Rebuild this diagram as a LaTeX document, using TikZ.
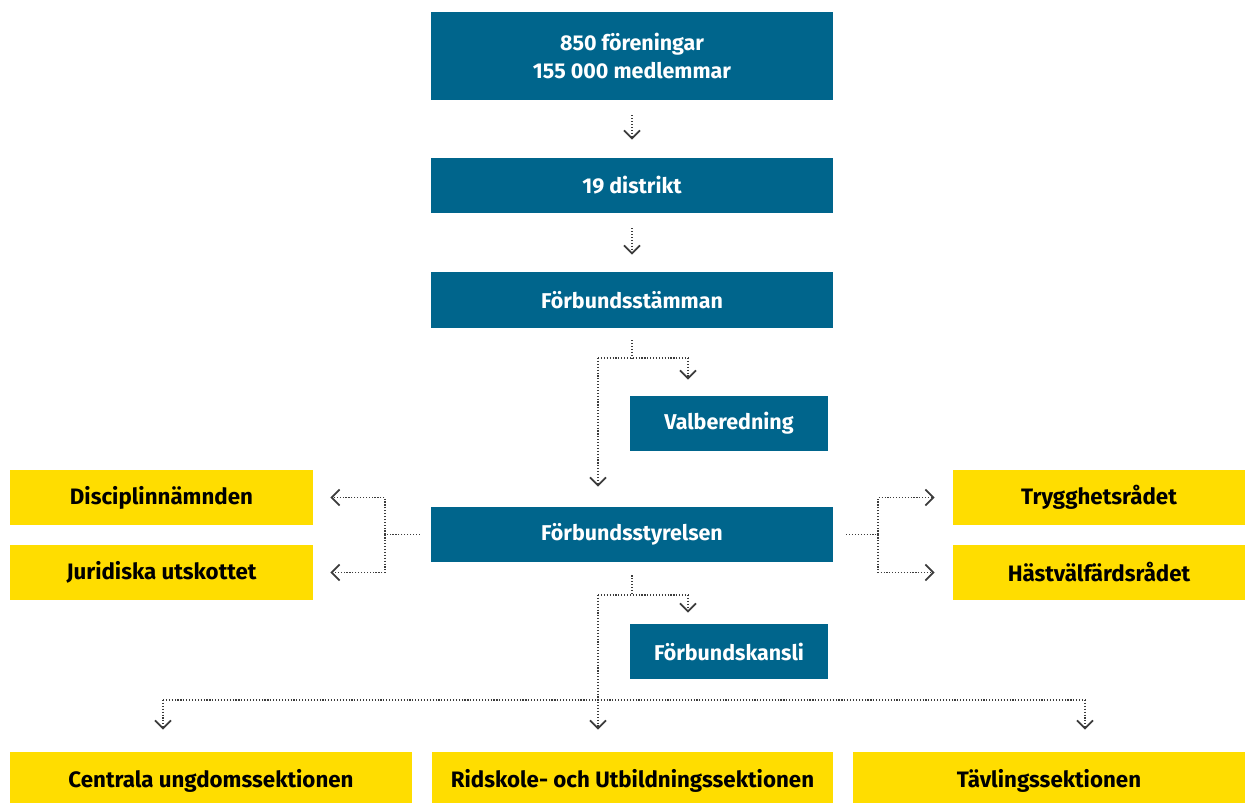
\documentclass[tikz,border=0pt]{standalone}
\usepackage{fontspec}
\setmainfont{Fira Sans}
\usetikzlibrary{arrows.meta,positioning}

\definecolor{rfblue}{RGB}{0,101,140}
\definecolor{rfyellow}{RGB}{255,221,0}
\definecolor{rfline}{RGB}{60,60,60}

\tikzset{
	bluebox/.style={fill=rfblue, text=white, inner sep=0pt, align=center,
		font=\bfseries\fontsize{12.2}{15.5}\selectfont},
	yellowbox/.style={fill=rfyellow, text=black, inner sep=0pt, align=center,
		font=\bfseries\fontsize{12.7}{15}\selectfont},
	line/.style={draw=rfline, densely dotted, line width=0.65pt},
	conn/.style={line, -{Straight Barb[length=1.6mm, width=3.2mm, line width=1pt]}},
}

\begin{document}
\begin{tikzpicture}[x=0.02cm, y=-0.02cm]
			\useasboundingbox (0, 0) rectangle (1246, 802);
			
			\node[bluebox, minimum width=8.04cm, minimum height=1.76cm] (top) at (632, 56) {850 föreningar\\155 000 medlemmar};
			\node[bluebox, minimum width=8.04cm, minimum height=1.1cm] (distrikt) at (632, 185.5) {19 distrikt};
			\node[bluebox, minimum width=8.04cm, minimum height=1.12cm] (stamma) at (632, 300) {Förbundsstämman};
			\node[bluebox, minimum width=3.96cm, minimum height=1.1cm] (valb) at (729, 423.5) {Valberedning};
			\node[bluebox, minimum width=8.04cm, minimum height=1.1cm] (styr) at (632, 534.5) {Förbundsstyrelsen};
			\node[bluebox, minimum width=3.96cm, minimum height=1.1cm] (kansli) at (729, 651.5) {Förbundskansli};
			
			\node[yellowbox, minimum width=6.06cm, minimum height=1.1cm] (disc) at (161.5, 497.5) {Disciplinnämnden};
			\node[yellowbox, minimum width=6.06cm, minimum height=1.1cm] (jur) at (161.5, 572.5) {Juridiska utskottet};
			\node[yellowbox, minimum width=5.84cm, minimum height=1.1cm] (trygg) at (1099, 497.5) {Trygghetsrådet};
			\node[yellowbox, minimum width=5.84cm, minimum height=1.1cm] (hast) at (1099, 572.5) {Hästvälfärdsrådet};
			
			\node[yellowbox, minimum width=8.04cm, minimum height=1.16cm] (cus) at (211, 781) {Centrala ungdomssektionen};
			\node[yellowbox, minimum width=8.02cm, minimum height=1.16cm] (ridsk) at (632.5, 781) {Ridskole- och Utbildningssektionen};
			\node[yellowbox, minimum width=7.84cm, minimum height=1.16cm] (tavl) at (1049, 781) {Tävlingssektionen};
			
			\coordinate (sv) at (632, 358);
			\coordinate (sl) at (598, 358);
			\coordinate (sr) at (688, 358);
			\coordinate (lj) at (385, 534.5);
			\coordinate (rj) at (878, 534.5);
			\coordinate (kv) at (632, 595);
			\coordinate (kl) at (598, 595);
			\coordinate (kr) at (688, 595);
			\coordinate (hl) at (163, 700);
			\coordinate (hr) at (1085, 700);
			
			\draw[conn, shorten <=3mm, shorten >=3.6mm] (top) -- (distrikt);
			\draw[conn, shorten <=3mm, shorten >=3.4mm] (distrikt) -- (stamma);
			
			\draw[line, shorten <=2.4mm] (stamma.south) -- (sv);
			\draw[line] (sl) -- (sr);
			\draw[conn, shorten >=3.2mm] (sr) -- (sr |- valb.north);
			\draw[conn, shorten >=4mm] (sl) -- (sl |- styr.north);
			
			\draw[line, shorten <=2.2mm] (styr.west) -- (lj);
			\draw[conn, shorten >=3.4mm] (lj) |- (disc.east);
			\draw[conn, shorten >=3.4mm] (lj) |- (jur.east);
			\draw[line, shorten <=2.6mm] (styr.east) -- (rj);
			\draw[conn, shorten >=3.6mm] (rj) |- (trygg.west);
			\draw[conn, shorten >=3.6mm] (rj) |- (hast.west);
			
			\draw[line, shorten <=2.6mm] (styr.south) -- (kv);
			\draw[line] (kl) -- (kr);
			\draw[conn, shorten >=2.2mm] (kr) -- (kr |- kansli.north);
			\draw[conn, shorten >=4.4mm] (kl) -- (kl |- ridsk.north);
			
			\draw[line] (hl) -- (hr);
			\draw[conn, shorten >=4.4mm] (hl) -- (hl |- cus.north);
			\draw[conn, shorten >=4.4mm] (hr) -- (hr |- tavl.north);
\end{tikzpicture}
\end{document}
